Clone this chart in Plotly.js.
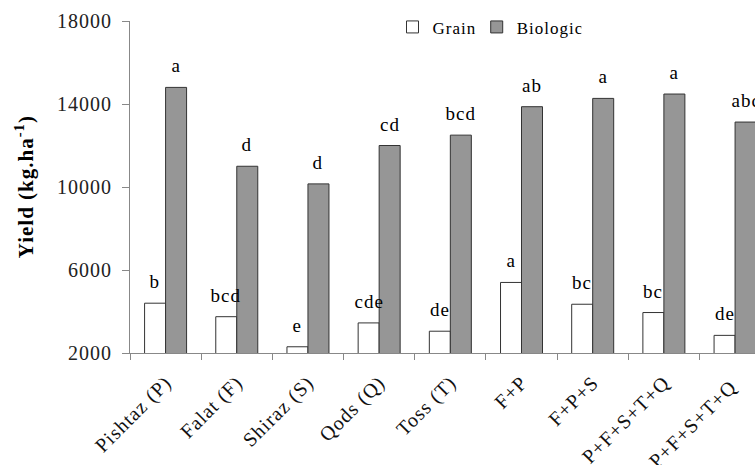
<!DOCTYPE html>
<html>
<head>
<meta charset="utf-8">
<script src="https://cdn.plot.ly/plotly-3.0.1.min.js"></script>
<style>
html,body{margin:0;padding:0;background:#fff;}
#chart{width:755px;height:465px;}
#chart .xtick text, #chart .ytick text, #chart .legendtext, #chart .annotation-text { letter-spacing: 1px; }
</style>
</head>
<body>
<div id="chart"></div>
<script>
const categories = ["Pishtaz (P)", "Falat (F)", "Shiraz (S)", "Qods (Q)", "Toss (T)", "F+P", "F+P+S", "P+F+S+T+Q", "P+F+S+T+Q "];
const grain = [4400, 3750, 2300, 3450, 3050, 5400, 4350, 3950, 2850];
const biologic = [14800, 11000, 10150, 12000, 12500, 13870, 14270, 14480, 13130];
const grainLetters = ["b", "bcd", "e", "cde", "de", "a", "bc", "bc", "de"];
const bioLetters = ["a", "d", "d", "cd", "bcd", "ab", "a", "a", "abc"];
const yTicks = [2000, 6000, 10000, 14000, 18000];
const yTickText = ["2000", "6000", "10000", "14000", "18000"];

const FONT = "'Liberation Serif', 'Times New Roman', serif";
const bargap = 0.41;
const half = (1 - bargap) / 4;

const annotations = [];
categories.forEach((c, i) => {
  annotations.push({x: i - half, y: grain[i], xref: 'x', yref: 'y', text: grainLetters[i], showarrow: false,
    yanchor: 'bottom', yshift: 9, font: {family: FONT, size: 19, color: '#000'}});
  annotations.push({x: i + half, y: biologic[i], xref: 'x', yref: 'y', text: bioLetters[i], showarrow: false,
    yanchor: 'bottom', yshift: 9, font: {family: FONT, size: 19, color: '#000'}});
});

const traces = [
  {type: 'bar', name: 'Grain', x: categories, y: grain,
   marker: {color: '#ffffff', line: {color: '#333333', width: 1}}},
  {type: 'bar', name: 'Biologic', x: categories, y: biologic,
   marker: {color: '#969696', line: {color: '#333333', width: 1}}}
];

const layout = {
  width: 755, height: 465,
  margin: {l: 130, r: 0, t: 21, b: 112},
  paper_bgcolor: '#fff', plot_bgcolor: '#fff',
  font: {family: FONT, color: '#000'},
  barmode: 'group', bargap: bargap, bargroupgap: 0,
  showlegend: true,
  legend: {orientation: 'h', x: 0.42, y: 1.035, xanchor: 'left', yanchor: 'top',
    font: {family: FONT, size: 17, color: '#000'}, itemwidth: 30, tracegroupgap: 0, bgcolor: 'rgba(0,0,0,0)'},
  xaxis: {type: 'category', range: [-0.5, 8.28], showline: true, linecolor: '#888', linewidth: 1,
    ticks: 'outside', tickson: 'boundaries', ticklen: 6, tickcolor: '#888', tickangle: -45,
    ticklabelstandoff: 9,
    tickfont: {family: FONT, size: 20, color: '#111'}, showgrid: false, zeroline: false, automargin: false},
  yaxis: {range: [2000, 18000], tickvals: yTicks, ticktext: yTickText, showline: true,
    linecolor: '#888', linewidth: 1, ticks: 'outside', ticklen: 7, tickcolor: '#888',
    ticklabelstandoff: 6,
    tickfont: {family: FONT, size: 20, color: '#222'}, showgrid: false, zeroline: false, automargin: false},
  annotations: annotations.concat([{
    xref: 'paper', yref: 'paper', x: -0.17, y: 0.5, xanchor: 'center', yanchor: 'middle', textangle: -90,
    text: 'Yield (kg.ha<sup>-1</sup>)', showarrow: false,
    font: {family: FONT, size: 21, color: '#000', weight: 'bold'}
  }])
};

Plotly.newPlot('chart', traces, layout, {displayModeBar: false, staticPlot: true});
</script>
</body>
</html>
